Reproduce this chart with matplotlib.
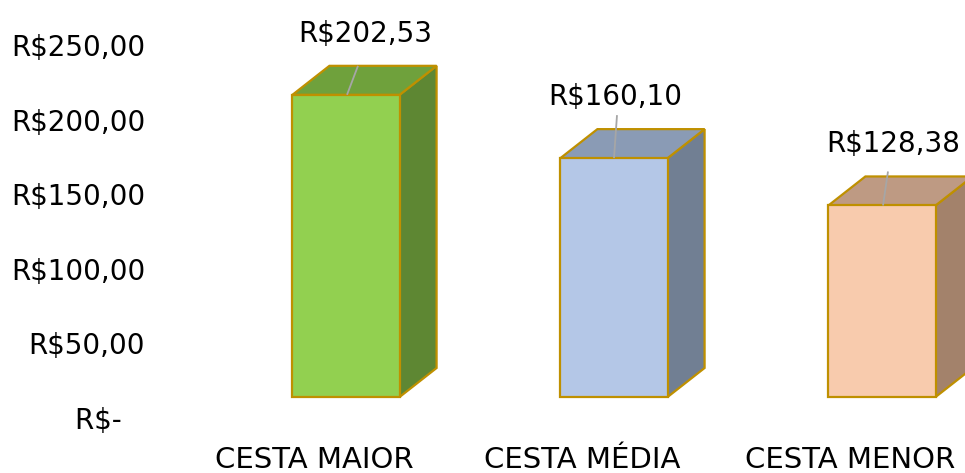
import matplotlib
matplotlib.use('Agg')
import matplotlib.pyplot as plt
from matplotlib.patches import Polygon
import matplotlib.transforms as mtransforms

# ---- data ----
categories = ['CESTA MAIOR', 'CESTA MÉDIA', 'CESTA MENOR']
values = [202.53, 160.10, 128.38]
value_labels = ['R$202,53', 'R$160,10', 'R$128,38']
ytick_values = [0, 50, 100, 150, 200, 250]
ytick_labels = ['R$-  \u2009', 'R$50,00', 'R$100,00', 'R$150,00', 'R$200,00', 'R$250,00']

# ---- style ----
front_colors = ['#92D050', '#B4C7E7', '#F8CBAD']
top_colors = ['#6FA13C', '#8A9BB5', '#BE9A83']
side_colors = ['#5E8733', '#717F93', '#A3826B']
edge_color = '#BF9000'
leader_color = '#A6A6A6'
num_font = 'DejaVu Sans'

W, H = 965, 473
DPI = 100
fig = plt.figure(figsize=(W / DPI, H / DPI), dpi=DPI)
ax_left, ax_bottom, ax_top = 160, 55, 45
ax = fig.add_axes([ax_left / W, ax_bottom / H, 1 - ax_left / W, (H - ax_bottom - ax_top) / H])
bar_step_px = 268
first_center_px = 346
ax.set_xlim((ax_left - first_center_px) / bar_step_px, (W - first_center_px) / bar_step_px)
ax.set_ylim(0, 250)
for s in ax.spines.values():
    s.set_visible(False)
ax.patch.set_visible(False)

ax.set_yticks(ytick_values)
ax.set_yticklabels(ytick_labels, fontsize=20, fontfamily=num_font, color='#000000')
ax.tick_params(axis='y', length=0, pad=10.8)
ax.set_xticks([])

fig.canvas.draw()
x_px_per_unit = ax.bbox.width / (ax.get_xlim()[1] - ax.get_xlim()[0])
y_px_per_unit = ax.bbox.height / (ax.get_ylim()[1] - ax.get_ylim()[0])

bar_width = 0.40
base_lift_px = 21
depth_dx_px, depth_dy_px = 37, 29
ddx = depth_dx_px / x_px_per_unit
ddy = depth_dy_px / y_px_per_unit
base = base_lift_px / y_px_per_unit
lw = 1.6

label_dx_px = [19, 1, 11]
label_dy_px = 61
line_top_dy_px = [29, 43, 34]
line_top_dx_px = [12, 3, 6]
line_bot_dx_px = [1, 0, 1]

for i, v in enumerate(values):
    x0, x1 = i - bar_width / 2, i + bar_width / 2
    y0, y1 = base, base + v
    front = Polygon([(x0, y0), (x1, y0), (x1, y1), (x0, y1)], closed=True,
                    facecolor=front_colors[i], edgecolor=edge_color, lw=lw,
                    joinstyle='miter', clip_on=False, zorder=3)
    top = Polygon([(x0, y1), (x1, y1), (x1 + ddx, y1 + ddy), (x0 + ddx, y1 + ddy)], closed=True,
                  facecolor=top_colors[i], edgecolor=edge_color, lw=lw,
                  joinstyle='miter', clip_on=False, zorder=2)
    side = Polygon([(x1, y0), (x1 + ddx, y0 + ddy), (x1 + ddx, y1 + ddy), (x1, y1)], closed=True,
                   facecolor=side_colors[i], edgecolor=edge_color, lw=lw,
                   joinstyle='miter', clip_on=False, zorder=2)
    for p in (side, top, front):
        ax.add_patch(p)
    lx0 = i + line_bot_dx_px[i] / x_px_per_unit
    lx1 = i + line_top_dx_px[i] / x_px_per_unit
    ly1 = y1 + line_top_dy_px[i] / y_px_per_unit
    ax.plot([lx0, lx1], [y1, ly1], color=leader_color, lw=1.3, zorder=4, clip_on=False,
            solid_capstyle='butt')
    ax.text(i + label_dx_px[i] / x_px_per_unit, y1 + label_dy_px / y_px_per_unit, value_labels[i],
            ha='center', va='center', fontsize=20, fontfamily=num_font, color='#000000',
            zorder=5, clip_on=False)

cat_offset = mtransforms.ScaledTranslation(-32 / DPI, -50 / DPI, fig.dpi_scale_trans)
cat_trans = mtransforms.blended_transform_factory(ax.transData, ax.transAxes) + cat_offset
for i, c in enumerate(categories):
    ax.text(i, 0, c, transform=cat_trans, ha='center', va='baseline', fontsize=21,
            fontfamily=num_font, color='#000000', clip_on=False)

fig.savefig('out.png', dpi=DPI)
